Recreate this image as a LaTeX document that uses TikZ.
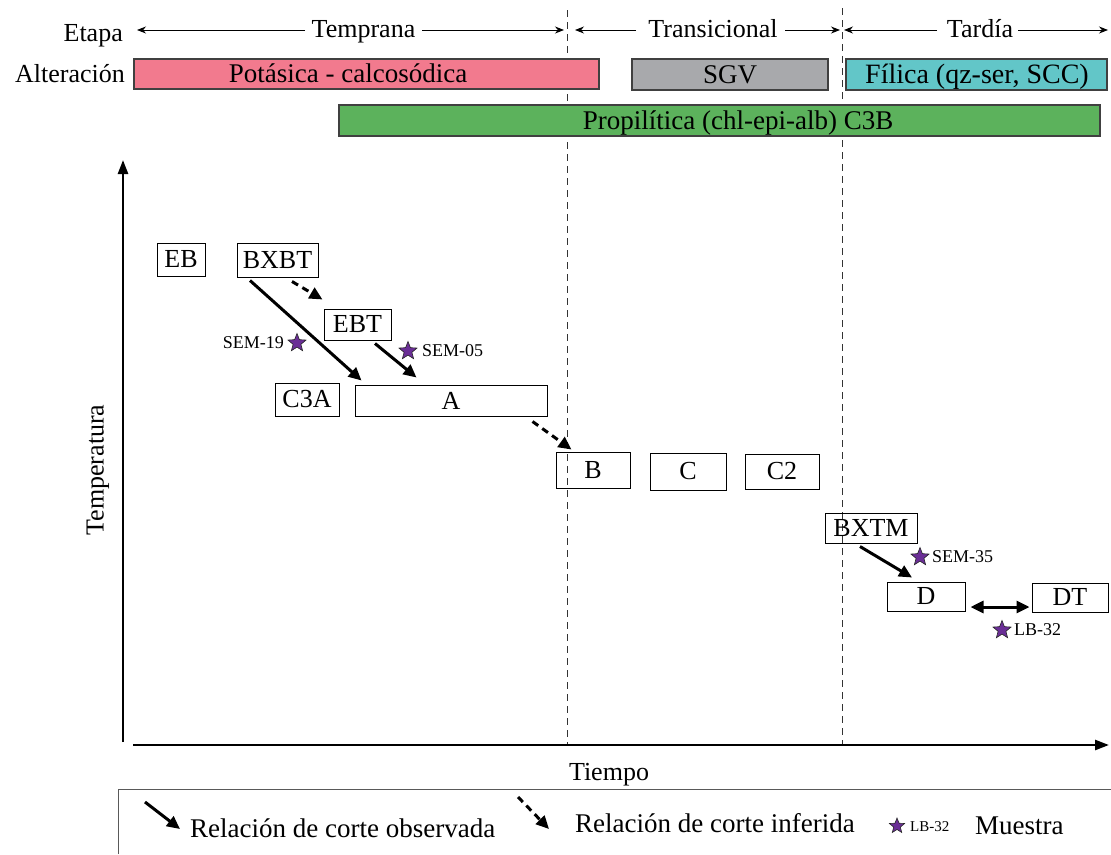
\documentclass[tikz,border=0pt]{standalone}
\usepackage{fontspec}
\setmainfont{Liberation Serif}
\usetikzlibrary{arrows.meta,shapes.geometric,calc}
\definecolor{pinkbar}{HTML}{F27A8E}
\definecolor{graybar}{HTML}{A8A9AC}
\definecolor{tealbar}{HTML}{62C6C8}
\definecolor{greenbar}{HTML}{5CB25C}
\definecolor{starpurple}{HTML}{6A2E96}
\begin{document}
\begin{tikzpicture}[x=1pt,y=-1pt,
  big/.style={font=\fontsize{26}{30}\selectfont, inner sep=0pt},
  barfont/.style={font=\fontsize{27}{30}\selectfont, inner sep=0pt},
  small/.style={font=\fontsize{18}{20}\selectfont, inner sep=0pt},
  tiny/.style={font=\fontsize{15}{17}\selectfont, inner sep=0pt},
  bx/.style={draw, line width=1pt, big},
  bar/.style={draw=black!75, line width=1.3pt},
  smp/.style={shape=star, star points=5, star point ratio=2.3, minimum size=19pt, inner sep=0pt, fill=starpurple, draw=black!85, line width=0.6pt},
  obs/.style={line width=3pt, -{Triangle[length=13pt,width=12pt]}},
  inf/.style={obs, dash pattern=on 7pt off 5pt},
  both/.style={line width=3pt, {Triangle[length=13pt,width=12pt]}-{Triangle[length=13pt,width=12pt]}},
  harr/.style={line width=0.9pt, -{Stealth[length=9pt,width=7pt]}},
  axarr/.style={line width=2.5pt, -{Triangle[length=14pt,width=10pt]}},
  vdash/.style={line width=0.9pt, draw=black!80, dash pattern=on 7pt off 5pt}]
\useasboundingbox (0,0) rectangle (1111,854);

% dashed stage separators
\coordinate (d1t) at (567.5,10);
\coordinate (d1b) at (567.5,745);
\coordinate (d2t) at (842.5,8);
\coordinate (d2b) at (842.5,745);
\draw[vdash] (d1t) -- (d1b);
\draw[vdash] (d2t) -- (d2b);

% header: stages
\node[big, anchor=base east] (etapa) at (123,41) {Etapa};
\node[big, anchor=base] (temp) at (363.5,37) {Temprana};
\node[big, anchor=base] (trans) at (713,37) {Transicional};
\node[big, anchor=base] (tard) at (980,37) {Tardía};
\coordinate (a1) at (137,30); \coordinate (a2) at (305,30);
\coordinate (a3) at (422,30); \coordinate (a4) at (564,30);
\coordinate (b1) at (575,30); \coordinate (b2) at (636,30);
\coordinate (b3) at (785,30); \coordinate (b4) at (840,30);
\coordinate (c1) at (844,30); \coordinate (c2) at (937,30);
\coordinate (c3) at (1018,30); \coordinate (c4) at (1108,30);
\draw[harr] (a2) -- (a1); \draw[harr] (a3) -- (a4);
\draw[harr] (b2) -- (b1); \draw[harr] (b3) -- (b4);
\draw[harr] (c2) -- (c1); \draw[harr] (c3) -- (c4);

% header: alteration bars
\node[big, anchor=base east] (alt) at (125,82) {Alteración};
\draw[bar, fill=pinkbar] (134,59) rectangle (599,89);
\draw[bar, fill=graybar] (632,59) rectangle (828,90);
\draw[bar, fill=tealbar] (846,59) rectangle (1107,90);
\draw[bar, fill=greenbar] (339,105) rectangle (1100,136);
\node[barfont, anchor=base] (pot) at (348,82) {Potásica - calcosódica};
\node[barfont, anchor=base] (sgv) at (730,83) {SGV};
\node[barfont, font=\fontsize{28}{30}\selectfont, anchor=base] (fil) at (977,83) {Fílica (qz-ser, SCC)};
\node[barfont, anchor=base] (pro) at (738,129) {Propilítica (chl-epi-alb) C3B};

% axes
\coordinate (yb) at (123,742); \coordinate (yt) at (123,160);
\coordinate (xl) at (133,745); \coordinate (xr) at (1109,745);
\draw[axarr] (yb) -- (yt);
\draw[axarr] (xl) -- (xr);
\node[big, rotate=90] (ylab) at (98,470) {Temperatura};
\node[big, anchor=base] (xlab) at (609,780) {Tiempo};

% boxes
\node[bx, minimum width=48pt, minimum height=33pt] (EB) at (181,259.5) {EB};
\node[bx, minimum width=81pt, minimum height=34pt] (BXBT) at (277.5,260) {BXBT};
\node[bx, minimum width=67pt, minimum height=31pt] (EBT) at (357.5,324.5) {EBT};
\node[bx, minimum width=64pt, minimum height=33pt] (C3A) at (307,399.5) {C3A};
\node[bx, minimum width=192pt, minimum height=31pt] (A) at (451,400.5) {A};
\node[bx, minimum width=74pt, minimum height=36pt] (B) at (593,470) {B};
\node[bx, minimum width=76pt, minimum height=37pt] (C) at (688,471.5) {C};
\node[bx, minimum width=74pt, minimum height=35pt] (C2) at (782,471.5) {C2};
\node[bx, minimum width=92pt, minimum height=30pt] (BXTM) at (871,528) {BXTM};
\node[bx, minimum width=78pt, minimum height=29pt] (D) at (926,596.5) {D};
\node[bx, minimum width=76pt, minimum height=29pt] (DT) at (1070,597.5) {DT};

% relations
\draw[obs] ([shift={(-27.5,3)}]BXBT.south) -- ([shift={(7,-4)}]A.north west);
\draw[inf] ([shift={(14.5,4)}]BXBT.south) -- ([shift={(-1,-9)}]EBT.north west);
\draw[obs] ([shift={(17.5,3)}]EBT.south) -- ([shift={(62,-7)}]A.north west);
\draw[inf] ([shift={(-15,5)}]A.south east) -- ([shift={(16,-2)}]B.north west);
\draw[obs] ([shift={(-11,3)}]BXTM.south) -- ([shift={(-14,-4)}]D.north);
\draw[both] ([shift={(5,10.5)}]D.east) -- ([shift={(-2,9.5)}]DT.west);

% samples
\node[smp] (s19) at (297,343) {};
\node[small, anchor=east] (l19) at (284,343) {SEM-19};
\node[smp] (s05) at (408,351) {};
\node[small, anchor=west] (l05) at (422,351) {SEM-05};
\node[smp] (s35) at (920,557) {};
\node[small, anchor=west] (l35) at (932,557) {SEM-35};
\node[smp] (s32) at (1002,630) {};
\node[small, anchor=west] (l32) at (1014,630) {LB-32};

% legend
\coordinate (lg1) at (118,854); \coordinate (lg2) at (118,789); \coordinate (lg3) at (1111,789);
\draw[line width=1pt, draw=black!65] (lg1) -- (lg2) -- (lg3);
\coordinate (o1) at (145,802); \coordinate (o2) at (180,829);
\draw[obs] (o1) -- (o2);
\node[barfont, anchor=base west] (lobs) at (190,837) {Relación de corte observada};
\coordinate (i1) at (518,797); \coordinate (i2) at (549,829);
\draw[inf] (i1) -- (i2);
\node[barfont, anchor=base west] (linf) at (575,832) {Relación de corte inferida};
\node[smp, minimum size=16pt] (lst) at (897,826) {};
\node[tiny, anchor=west] (llb) at (910,827) {LB-32};
\node[barfont, anchor=base west] (lmu) at (975,834) {Muestra};
\end{tikzpicture}
\end{document}
